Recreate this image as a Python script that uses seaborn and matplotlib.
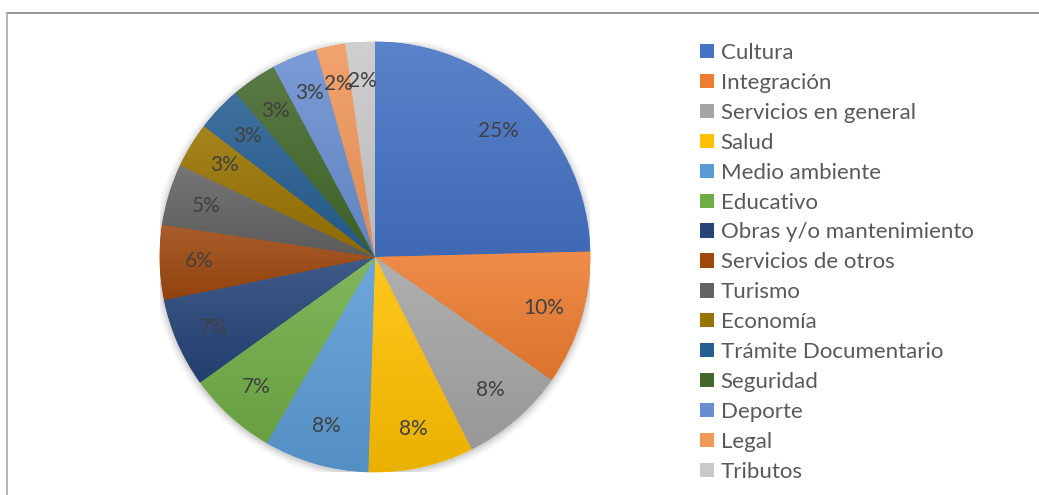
import matplotlib
matplotlib.use("Agg")
import matplotlib.pyplot as plt
from matplotlib.patches import Patch, Circle
from matplotlib.lines import Line2D
import numpy as np
import seaborn as sns

# Share of requests per category (%)
categories = [
    "Cultura", "Integración", "Servicios en general", "Salud", "Medio ambiente",
    "Educativo", "Obras y/o mantenimiento", "Servicios de otros", "Turismo",
    "Economía", "Trámite Documentario", "Seguridad", "Deporte", "Legal", "Tributos",
]
shares = [24.6, 10.1, 7.9, 7.9, 7.9, 6.7, 6.7, 5.6, 4.6, 3.4, 3.4, 3.4, 3.4, 2.2, 2.2]
colors = [
    "#4472C4", "#ED7D31", "#A5A5A5", "#FFC000", "#5B9BD5", "#70AD47",
    "#264478", "#9E480E", "#636363", "#997300", "#255E91", "#43682B",
    "#698ED0", "#F1975A", "#C9C9C9",
]

sns.set_theme(style="white")
palette = sns.color_palette(colors)
plt.rcParams["font.family"] = ["Lato", "DejaVu Sans"]

W, H = 1039, 495
fig = plt.figure(figsize=(W / 100, H / 100), dpi=100)
fig.patch.set_facecolor("white")

# Pie area: centre (375, 257) px, radius 215 px
cx, cy, r = 375, 257, 215
ax = fig.add_axes([(cx - r) / W, (H - cy - r) / H, 2 * r / W, 2 * r / H])

# soft shadow around the pie
for k, a in zip([1.035, 1.025, 1.015, 1.007], [0.03, 0.04, 0.05, 0.06]):
    ax.add_patch(Circle((0, -0.006), k, color="black", alpha=a, lw=0, zorder=0))

wedges, texts, autotexts = ax.pie(
    shares,
    colors=palette,
    startangle=90,
    counterclock=False,
    radius=1.0,
    autopct="%.0f%%",
    pctdistance=0.82,
    wedgeprops=dict(linewidth=0.6),
    textprops=dict(color="#404040", fontsize=15),
)


def shade(rgb, f):
    rgb = np.array(rgb)
    return rgb + (1 - rgb) * f if f > 0 else rgb * (1 + f)


# vertical gradient on each slice: lighter at the top, deeper at the bottom
for w, c in zip(wedges, palette):
    w.set_edgecolor(c)
    w.set_zorder(2)
    bb = w.get_path().get_extents()
    top, bot = shade(c, 0.12), shade(c, -0.08)
    t = np.linspace(0, 1, 128)[:, None]
    grad = (top[None, :] * (1 - t) + bot[None, :] * t)[:, None, :]
    im = ax.imshow(grad, extent=(bb.x0, bb.x1, bb.y0, bb.y1), origin="upper",
                   aspect="auto", interpolation="bilinear", zorder=2.5)
    im.set_clip_path(w)
for t in autotexts:
    t.set_zorder(3)
ax.set_xlim(-1, 1)
ax.set_ylim(-1, 1)
ax.set_aspect("equal")
ax.axis("off")

# Legend
handles = [Patch(facecolor=c, edgecolor="none") for c in palette]
fig.legend(
    handles, categories,
    loc="upper left",
    bbox_to_anchor=(689 / W, 1 - 32 / H),
    frameon=False,
    fontsize=16,
    labelcolor="#595959",
    handlelength=0.62,
    handleheight=0.62,
    handletextpad=0.3,
    labelspacing=0.445,
    borderpad=0,
)

# chart frame (top and left edges)
fig.add_artist(Line2D([6.5 / W, 1], [1 - 12.5 / H, 1 - 12.5 / H], color="#8c8c8c", lw=1.3,
                      transform=fig.transFigure))
fig.add_artist(Line2D([6.5 / W, 6.5 / W], [0, 1 - 12.5 / H], color="#b0b0b0", lw=1.3,
                      transform=fig.transFigure))

fig.savefig("out.png", dpi=100, facecolor="white")
